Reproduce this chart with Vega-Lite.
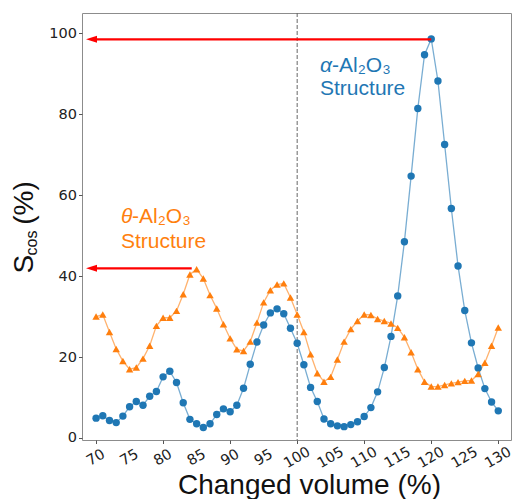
{
  "$schema": "https://vega.github.io/schema/vega-lite/v6.json",
  "width": 429,
  "height": 427,
  "autosize": {"type": "none"},
  "padding": {"left": 82, "top": 13, "right": 3, "bottom": 59},
  "background": "white",
  "config": {
    "view": {"stroke": "#8c8c8c", "strokeWidth": 1},
    "axis": {
      "grid": false,
      "domain": false,
      "tickColor": "#555555",
      "tickSize": 3.5,
      "labelFont": "DejaVu Sans",
      "labelFontSize": 14.5,
      "labelColor": "#222222"
    }
  },
  "datasets": {
    "series": [
      {"volume": 70, "structure": "alpha", "scos": 4.9},
      {"volume": 71, "structure": "alpha", "scos": 5.5},
      {"volume": 72, "structure": "alpha", "scos": 4.3},
      {"volume": 73, "structure": "alpha", "scos": 3.8},
      {"volume": 74, "structure": "alpha", "scos": 5.4},
      {"volume": 75, "structure": "alpha", "scos": 7.7},
      {"volume": 76, "structure": "alpha", "scos": 9.0},
      {"volume": 77, "structure": "alpha", "scos": 8.1},
      {"volume": 78, "structure": "alpha", "scos": 10.3},
      {"volume": 79, "structure": "alpha", "scos": 11.5},
      {"volume": 80, "structure": "alpha", "scos": 15.1},
      {"volume": 81, "structure": "alpha", "scos": 16.5},
      {"volume": 82, "structure": "alpha", "scos": 13.7},
      {"volume": 83, "structure": "alpha", "scos": 8.7},
      {"volume": 84, "structure": "alpha", "scos": 4.6},
      {"volume": 85, "structure": "alpha", "scos": 3.5},
      {"volume": 86, "structure": "alpha", "scos": 2.6},
      {"volume": 87, "structure": "alpha", "scos": 3.5},
      {"volume": 88, "structure": "alpha", "scos": 5.8},
      {"volume": 89, "structure": "alpha", "scos": 7.2},
      {"volume": 90, "structure": "alpha", "scos": 6.5},
      {"volume": 91, "structure": "alpha", "scos": 8.1},
      {"volume": 92, "structure": "alpha", "scos": 12.3},
      {"volume": 93, "structure": "alpha", "scos": 18.2},
      {"volume": 94, "structure": "alpha", "scos": 23.7},
      {"volume": 95, "structure": "alpha", "scos": 27.9},
      {"volume": 96, "structure": "alpha", "scos": 30.9},
      {"volume": 97, "structure": "alpha", "scos": 31.9},
      {"volume": 98, "structure": "alpha", "scos": 30.7},
      {"volume": 99, "structure": "alpha", "scos": 27.1},
      {"volume": 100, "structure": "alpha", "scos": 23.4},
      {"volume": 101, "structure": "alpha", "scos": 18.1},
      {"volume": 102, "structure": "alpha", "scos": 12.5},
      {"volume": 103, "structure": "alpha", "scos": 9.0},
      {"volume": 104, "structure": "alpha", "scos": 4.7},
      {"volume": 105, "structure": "alpha", "scos": 3.5},
      {"volume": 106, "structure": "alpha", "scos": 3.0},
      {"volume": 107, "structure": "alpha", "scos": 2.8},
      {"volume": 108, "structure": "alpha", "scos": 3.3},
      {"volume": 109, "structure": "alpha", "scos": 4.0},
      {"volume": 110, "structure": "alpha", "scos": 5.3},
      {"volume": 111, "structure": "alpha", "scos": 7.5},
      {"volume": 112, "structure": "alpha", "scos": 11.4},
      {"volume": 113, "structure": "alpha", "scos": 17.4},
      {"volume": 114, "structure": "alpha", "scos": 25.1},
      {"volume": 115, "structure": "alpha", "scos": 35.1},
      {"volume": 116, "structure": "alpha", "scos": 48.5},
      {"volume": 117, "structure": "alpha", "scos": 64.7},
      {"volume": 118, "structure": "alpha", "scos": 81.4},
      {"volume": 119, "structure": "alpha", "scos": 94.7},
      {"volume": 120, "structure": "alpha", "scos": 98.6},
      {"volume": 121, "structure": "alpha", "scos": 88.2},
      {"volume": 122, "structure": "alpha", "scos": 72.5},
      {"volume": 123, "structure": "alpha", "scos": 56.7},
      {"volume": 124, "structure": "alpha", "scos": 42.5},
      {"volume": 125, "structure": "alpha", "scos": 31.5},
      {"volume": 126, "structure": "alpha", "scos": 23.5},
      {"volume": 127, "structure": "alpha", "scos": 17.3},
      {"volume": 128, "structure": "alpha", "scos": 12.2},
      {"volume": 129, "structure": "alpha", "scos": 8.9},
      {"volume": 130, "structure": "alpha", "scos": 6.7},
      {"volume": 70, "structure": "theta", "scos": 30.0},
      {"volume": 71, "structure": "theta", "scos": 30.5},
      {"volume": 72, "structure": "theta", "scos": 26.2},
      {"volume": 73, "structure": "theta", "scos": 22.0},
      {"volume": 74, "structure": "theta", "scos": 19.0},
      {"volume": 75, "structure": "theta", "scos": 17.0},
      {"volume": 76, "structure": "theta", "scos": 17.4},
      {"volume": 77, "structure": "theta", "scos": 19.6},
      {"volume": 78, "structure": "theta", "scos": 22.8},
      {"volume": 79, "structure": "theta", "scos": 27.7},
      {"volume": 80, "structure": "theta", "scos": 29.7},
      {"volume": 81, "structure": "theta", "scos": 29.7},
      {"volume": 82, "structure": "theta", "scos": 31.4},
      {"volume": 83, "structure": "theta", "scos": 35.5},
      {"volume": 84, "structure": "theta", "scos": 40.4},
      {"volume": 85, "structure": "theta", "scos": 41.7},
      {"volume": 86, "structure": "theta", "scos": 39.4},
      {"volume": 87, "structure": "theta", "scos": 35.3},
      {"volume": 88, "structure": "theta", "scos": 32.0},
      {"volume": 89, "structure": "theta", "scos": 28.1},
      {"volume": 90, "structure": "theta", "scos": 24.6},
      {"volume": 91, "structure": "theta", "scos": 21.9},
      {"volume": 92, "structure": "theta", "scos": 21.5},
      {"volume": 93, "structure": "theta", "scos": 23.8},
      {"volume": 94, "structure": "theta", "scos": 28.5},
      {"volume": 95, "structure": "theta", "scos": 33.5},
      {"volume": 96, "structure": "theta", "scos": 36.5},
      {"volume": 97, "structure": "theta", "scos": 37.9},
      {"volume": 98, "structure": "theta", "scos": 38.2},
      {"volume": 99, "structure": "theta", "scos": 34.7},
      {"volume": 100, "structure": "theta", "scos": 30.5},
      {"volume": 101, "structure": "theta", "scos": 26.2},
      {"volume": 102, "structure": "theta", "scos": 20.7},
      {"volume": 103, "structure": "theta", "scos": 16.0},
      {"volume": 104, "structure": "theta", "scos": 13.9},
      {"volume": 105, "structure": "theta", "scos": 15.1},
      {"volume": 106, "structure": "theta", "scos": 19.4},
      {"volume": 107, "structure": "theta", "scos": 23.8},
      {"volume": 108, "structure": "theta", "scos": 26.9},
      {"volume": 109, "structure": "theta", "scos": 28.9},
      {"volume": 110, "structure": "theta", "scos": 30.5},
      {"volume": 111, "structure": "theta", "scos": 30.4},
      {"volume": 112, "structure": "theta", "scos": 29.4},
      {"volume": 113, "structure": "theta", "scos": 28.9},
      {"volume": 114, "structure": "theta", "scos": 28.3},
      {"volume": 115, "structure": "theta", "scos": 27.2},
      {"volume": 116, "structure": "theta", "scos": 24.9},
      {"volume": 117, "structure": "theta", "scos": 21.2},
      {"volume": 118, "structure": "theta", "scos": 17.0},
      {"volume": 119, "structure": "theta", "scos": 13.9},
      {"volume": 120, "structure": "theta", "scos": 12.7},
      {"volume": 121, "structure": "theta", "scos": 12.7},
      {"volume": 122, "structure": "theta", "scos": 13.1},
      {"volume": 123, "structure": "theta", "scos": 13.5},
      {"volume": 124, "structure": "theta", "scos": 13.8},
      {"volume": 125, "structure": "theta", "scos": 14.1},
      {"volume": 126, "structure": "theta", "scos": 14.2},
      {"volume": 127, "structure": "theta", "scos": 15.8},
      {"volume": 128, "structure": "theta", "scos": 18.6},
      {"volume": 129, "structure": "theta", "scos": 22.8},
      {"volume": 130, "structure": "theta", "scos": 27.3}
    ],
    "xticks": [
      {"volume": 70, "tick": "70"},
      {"volume": 75, "tick": "75"},
      {"volume": 80, "tick": "80"},
      {"volume": 85, "tick": "85"},
      {"volume": 90, "tick": "90"},
      {"volume": 95, "tick": "95"},
      {"volume": 100, "tick": "100"},
      {"volume": 105, "tick": "105"},
      {"volume": 110, "tick": "110"},
      {"volume": 115, "tick": "115"},
      {"volume": 120, "tick": "120"},
      {"volume": 125, "tick": "125"},
      {"volume": 130, "tick": "130"}
    ],
    "arrows": [
      {"x_head": 69.32, "x_end": 120, "y": 98.5},
      {"x_head": 69.32, "x_end": 84.27, "y": 41.92}
    ],
    "labels_italic": [
      {"x": 103.41, "y": 90.5, "text": "α", "structure": "alpha"},
      {"x": 73.72, "y": 53.03, "text": "θ", "structure": "theta"}
    ],
    "labels_plain": [
      {"x": 105.2, "y": 90.5, "text": "-Al₂O₃", "structure": "alpha"},
      {"x": 103.41, "y": 84.74, "text": "Structure", "structure": "alpha"},
      {"x": 75.36, "y": 53.03, "text": "-Al₂O₃", "structure": "theta"},
      {"x": 73.72, "y": 46.86, "text": "Structure", "structure": "theta"}
    ],
    "ytitle_big": [
      {"x": 60.59, "y": 42.97, "text": "S"},
      {"x": 60.59, "y": 58.05, "text": "(%)"}
    ],
    "ytitle_sub": [
      {"x": 61.19, "y": 48.17, "text": "cos"}
    ]
  },
  "layer": [
    {
      "data": {"name": "series"},
      "mark": {"type": "line", "strokeWidth": 1.3, "opacity": 0.6},
      "encoding": {
        "x": {
          "field": "volume", "type": "quantitative",
          "scale": {"domain": [67.9, 131.9], "nice": false, "zero": false},
          "axis": {
            "values": [70, 75, 80, 85, 90, 95, 100, 105, 110, 115, 120, 125, 130],
            "labels": false,
            "title": "Changed volume (%)",
            "titleFont": "Liberation Sans", "titleFontSize": 28, "titleFontWeight": "normal",
            "titleColor": "#111111", "titleX": 227, "titleY": 53, "titleBaseline": "alphabetic"
          }
        },
        "y": {
          "field": "scos", "type": "quantitative",
          "scale": {"domain": [-0.5, 105], "nice": false, "zero": false},
          "axis": {"values": [0, 20, 40, 60, 80, 100], "labelOverlap": false, "labelPadding": 2, "title": null}
        },
        "color": {"field": "structure", "type": "nominal", "scale": {"domain": ["alpha", "theta"], "range": ["#1f77b4", "#ff7f0e"]}, "legend": null},
        "detail": {"field": "structure"}
      }
    },
    {
      "data": {"values": [{"volume": 100}]},
      "mark": {"type": "rule", "color": "#666666", "strokeWidth": 1, "strokeDash": [4, 2]},
      "encoding": {
        "x": {"field": "volume", "type": "quantitative"}
      }
    },
    {
      "data": {"name": "series"},
      "mark": {"type": "point", "filled": true, "opacity": 1, "size": 55},
      "encoding": {
        "x": {"field": "volume", "type": "quantitative"},
        "y": {"field": "scos", "type": "quantitative"},
        "color": {"field": "structure", "type": "nominal", "legend": null},
        "shape": {"field": "structure", "type": "nominal", "scale": {"domain": ["alpha", "theta"], "range": ["circle", "triangle-up"]}, "legend": null}
      }
    },
    {
      "data": {"name": "xticks"},
      "mark": {"type": "text", "font": "DejaVu Sans", "fontSize": 14.5, "color": "#222222", "angle": 330, "align": "center", "baseline": "middle", "dx": -9, "dy": 15.6},
      "encoding": {
        "x": {"field": "volume", "type": "quantitative"},
        "y": {"datum": -0.5, "type": "quantitative"},
        "text": {"field": "tick"}
      }
    },
    {
      "data": {"name": "arrows"},
      "mark": {"type": "rule", "color": "#ff0000", "strokeWidth": 2.2},
      "encoding": {
        "x": {"field": "x_head", "type": "quantitative"},
        "x2": {"field": "x_end"},
        "y": {"field": "y", "type": "quantitative"}
      }
    },
    {
      "data": {"name": "arrows"},
      "mark": {"type": "point", "filled": true, "color": "#ff0000", "opacity": 1, "shape": "M -1 0 L 1 -0.64 L 1 0.64 Z", "size": 121},
      "encoding": {
        "x": {"field": "x_head", "type": "quantitative"},
        "y": {"field": "y", "type": "quantitative"}
      }
    },
    {
      "data": {"name": "labels_italic"},
      "mark": {"type": "text", "font": "Liberation Sans", "fontSize": 21, "fontStyle": "italic", "align": "left", "baseline": "alphabetic"},
      "encoding": {
        "x": {"field": "x", "type": "quantitative"},
        "y": {"field": "y", "type": "quantitative"},
        "text": {"field": "text"},
        "color": {"field": "structure", "type": "nominal", "legend": null}
      }
    },
    {
      "data": {"name": "labels_plain"},
      "mark": {"type": "text", "font": "Liberation Sans", "fontSize": 21, "align": "left", "baseline": "alphabetic"},
      "encoding": {
        "x": {"field": "x", "type": "quantitative"},
        "y": {"field": "y", "type": "quantitative"},
        "text": {"field": "text"},
        "color": {"field": "structure", "type": "nominal", "legend": null}
      }
    },
    {
      "data": {"name": "ytitle_big"},
      "mark": {"type": "text", "font": "Liberation Sans", "fontSize": 28, "angle": 270, "align": "center", "baseline": "alphabetic", "color": "#111111"},
      "encoding": {
        "x": {"field": "x", "type": "quantitative"},
        "y": {"field": "y", "type": "quantitative"},
        "text": {"field": "text"}
      }
    },
    {
      "data": {"name": "ytitle_sub"},
      "mark": {"type": "text", "font": "Liberation Sans", "fontSize": 16, "angle": 270, "align": "center", "baseline": "alphabetic", "color": "#111111"},
      "encoding": {
        "x": {"field": "x", "type": "quantitative"},
        "y": {"field": "y", "type": "quantitative"},
        "text": {"field": "text"}
      }
    }
  ]
}
